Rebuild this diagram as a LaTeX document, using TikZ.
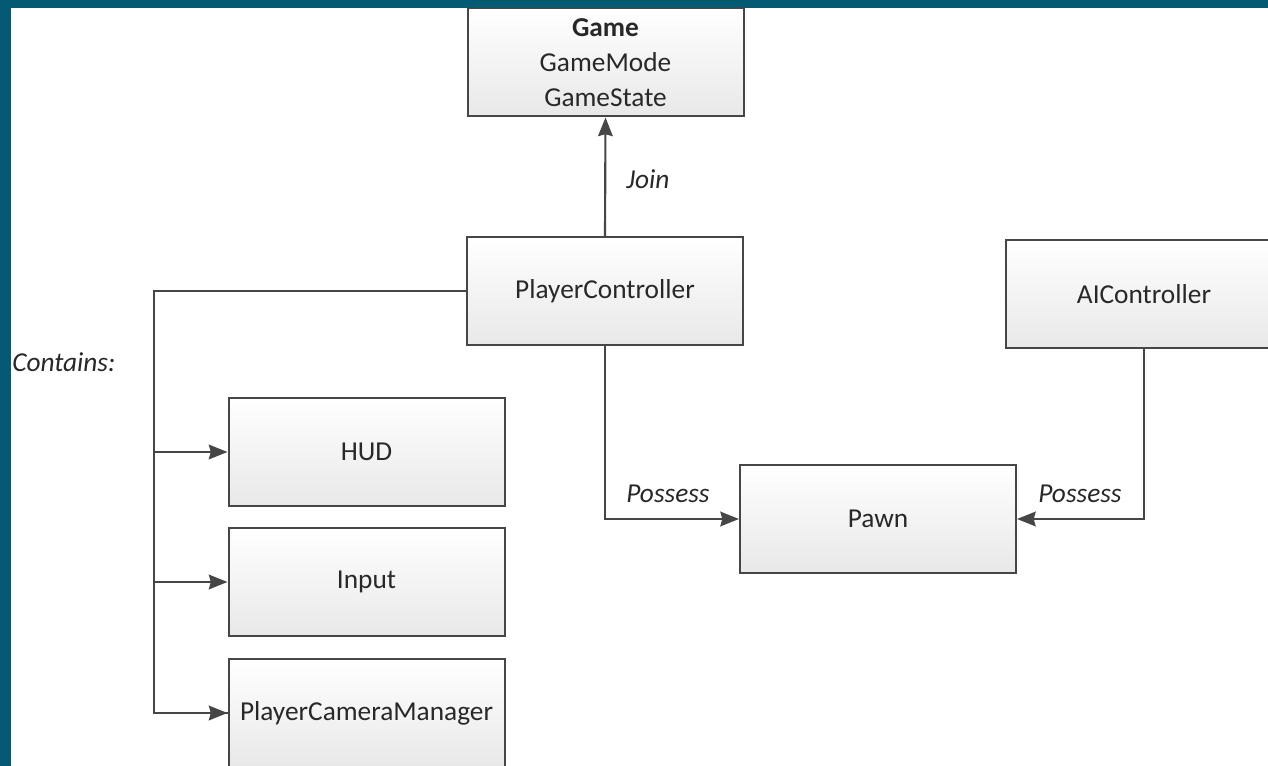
\documentclass[tikz,border=0pt]{standalone}
\usepackage{fontspec}
\setmainfont{Carlito}
\usepackage{tikz}
\usetikzlibrary{arrows.meta}
\usepackage{xcolor}

\definecolor{frameteal}{RGB}{4,90,115}
\definecolor{linegray}{RGB}{70,70,70}
\definecolor{textgray}{RGB}{40,40,40}

\tikzset{
  classbox/.style={draw=linegray, line width=1.5pt, top color=white, bottom color=black!9,
    minimum width=207pt, minimum height=81pt, inner sep=0pt, align=center,
    text=textgray, font=\fontsize{20.5}{26}\selectfont},
  link/.style={draw=linegray, line width=1.6pt},
  arr/.style={link, -{Stealth[length=14pt,width=11pt,inset=1.5pt]}},
  role/.style={inner sep=0.75pt, text=textgray, font=\fontsize{20.5}{24}\selectfont\itshape}
}

\begin{document}
\begin{tikzpicture}[x=0.75pt,y=0.75pt,yscale=-1,xscale=1]
\useasboundingbox (0,0) rectangle (1268,766);
%Frame
\fill [frameteal] (0,0) rectangle (1268,766);
\fill [white] (11,8) rectangle (1268,766);
\clip (0,0) rectangle (1268,766);

%Shape: Rectangle
\node [classbox] (game) at (605.5,62.5) {\textbf{Game}\\GameMode\\GameState};
%Shape: Rectangle
\node [classbox] (pc) at (605,291) {PlayerController};
%Shape: Rectangle
\node [classbox] (ai) at (1144,294) {AIController};
%Shape: Rectangle
\node [classbox] (pawn) at (878,519) {Pawn};
%Shape: Rectangle
\node [classbox] (hud) at (366.5,452) {HUD};
%Shape: Rectangle
\node [classbox] (input) at (366.5,582) {Input};
%Shape: Rectangle
\node [classbox] (pcm) at (366.5,713) {PlayerCameraManager};

%Straight Lines
\draw [arr] (pc.north) -- (game.south);
%Straight Lines
\draw [arr] (pc.south) |- (pawn.west);
%Straight Lines
\draw [arr] (ai.south) |- (pawn.east);
%Straight Lines
\coordinate (trunk) at (154,291);
\draw [link] (pc.west) -- (trunk) |- (pcm.west);
\draw [arr] (trunk |- hud.west) -- (hud.west);
\draw [arr] (trunk |- input.west) -- (input.west);
\draw [arr] (trunk |- pcm.west) -- (pcm.west);

% Text Node
\node [role] (join) at (648,179) {Join};
% Text Node
\node [role] (possl) at (668,494) {Possess};
% Text Node
\node [role] (possr) at (1080,494) {Possess};
% Text Node
\node [role, anchor=west] (contains) at (11,362) {Contains:};

\end{tikzpicture}
\end{document}
